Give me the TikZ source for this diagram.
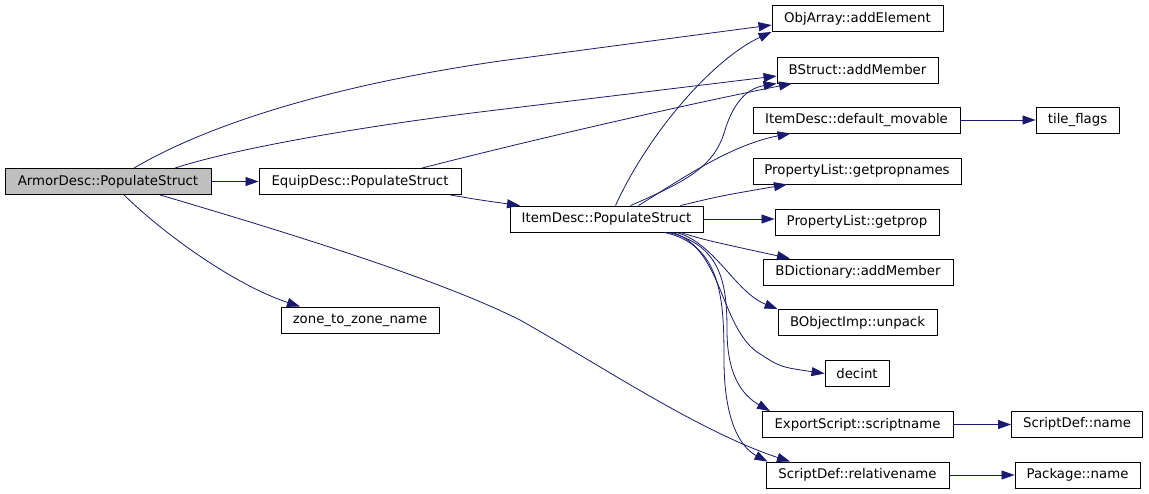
\documentclass[tikz,border=0pt]{standalone}
\usepackage{fontspec}
\setmainfont{DejaVu Sans}
\usetikzlibrary{arrows.meta}
\definecolor{edgeblue}{RGB}{25,25,112}
\definecolor{rootgray}{RGB}{191,191,191}
\begin{document}
\begin{tikzpicture}[x=1pt,y=-1pt,
  fn/.style={draw=black, line width=0.9pt, fill=white, inner sep=0pt, minimum height=26pt,
    font=\fontsize{13.3}{15}\selectfont},
  call/.style={draw=edgeblue, line width=0.8pt, -{Triangle[length=13pt,width=9pt]}}]
\useasboundingbox[fill=white] (0,0) rectangle (1149,493);

\node[fn, fill=rootgray, minimum width=206pt] (armor) at (108,181.5) {ArmorDesc::PopulateStruct};
\node[fn, minimum width=202pt] (equip) at (360,181.5) {EquipDesc::PopulateStruct};
\node[fn, minimum width=158pt] (zone) at (360,320) {zone\_to\_zone\_name};
\node[fn, minimum width=193pt] (item) at (606.5,219) {ItemDesc::PopulateStruct};
\node[fn, minimum width=171pt] (objarr) at (857.5,18.5) {ObjArray::addElement};
\node[fn, minimum width=161pt] (bstruct) at (857.5,70) {BStruct::addMember};
\node[fn, minimum width=207pt] (movable) at (856.5,120) {ItemDesc::default\_movable};
\node[fn, minimum width=208pt] (propnames) at (857,171) {PropertyList::getpropnames};
\node[fn, minimum width=164pt] (getprop) at (857,222) {PropertyList::getprop};
\node[fn, minimum width=190pt] (bdict) at (858,272) {BDictionary::addMember};
\node[fn, minimum width=159pt] (unpack) at (857.5,322.5) {BObjectImp::unpack};
\node[fn, minimum width=64pt] (decint) at (857,373.5) {decint};
\node[fn, minimum width=191pt] (export) at (857.5,424.5) {ExportScript::scriptname};
\node[fn, minimum width=183pt] (relname) at (857.5,475) {ScriptDef::relativename};
\node[fn, minimum width=83pt] (tile) at (1077.5,120.5) {tile\_flags};
\node[fn, minimum width=131pt] (sdname) at (1077,424) {ScriptDef::name};
\node[fn, minimum width=125pt] (pkg) at (1077.5,475) {Package::name};

% ArmorDesc calls
\draw[call] ([xshift=26pt]armor.north) .. controls (190,135) and (300,90) .. (500,61) -- ([yshift=-6.5pt]objarr.west);
\draw[call] ([xshift=67pt]armor.north) .. controls (230,150) and (350,128) .. (480,112) -- ([yshift=-6pt]bstruct.west);
\draw[call] (armor) -- (equip);
\draw[call] ([xshift=16pt]armor.south) .. controls (165,235) and (235,285) .. ([xshift=-60pt]zone.north);
\draw[call] ([xshift=52pt]armor.south) .. controls (330,245) and (450,285) .. (520,320) .. controls (600,365) and (700,432) .. ([xshift=-67.5pt]relname.north);

% EquipDesc calls
\draw[call] ([xshift=62pt]equip.north) .. controls (500,148) and (650,112) .. ([xshift=-65.5pt]bstruct.south);
\draw[call] ([xshift=90pt]equip.south) .. controls (480,200) .. ([xshift=-86.5pt]item.north);

% ItemDesc calls
\draw[call] ([xshift=9pt]item.north) .. controls (650,130) and (715,58) .. (objarr.south west);
\draw[call] ([xshift=24pt]item.north) .. controls (690,180) and (715,165) .. (725,130) .. controls (735,98) and (750,88) .. (bstruct.south west);
\draw[call] ([xshift=32pt]item.north) .. controls (680,180) and (730,145) .. ([xshift=-66pt]movable.south);
\draw[call] ([xshift=74pt]item.north) .. controls (720,196) .. ([xshift=-70pt]propnames.south);
\draw[call] (item.east) -- (item.east -| getprop.west);
\draw[call] ([xshift=-23pt]item.south east) .. controls (705,240) .. ([xshift=-68pt]bdict.north);
\draw[call] ([xshift=-27pt]item.south east) .. controls (715,243) and (735,292) .. (unpack.north west);
\draw[call] ([xshift=-31pt]item.south east) .. controls (722,248) and (720,325) .. (757,352) .. controls (780,367) .. (decint.west);
\draw[call] ([xshift=-35pt]item.south east) .. controls (722,245) and (727,285) .. (727,330) .. controls (727,375) and (742,395) .. ([xshift=-87.5pt]export.north);
\draw[call] ([xshift=-39pt]item.south east) .. controls (722,245) and (724,300) .. (724,360) .. controls (724,420) and (740,447) .. ([xshift=-90pt]relname.north);

% right column
\draw[call] (movable.east) -- (movable.east -| tile.west);
\draw[call] (export.east) -- (export.east -| sdname.west);
\draw[call] (relname.east) -- (relname.east -| pkg.west);
\end{tikzpicture}
\end{document}
